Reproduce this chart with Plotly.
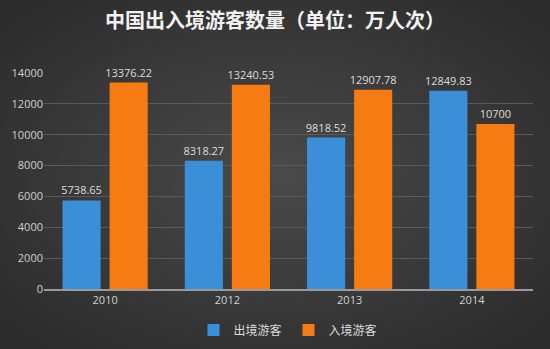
import plotly.graph_objects as go

years = ["2010", "2012", "2013", "2014"]
outbound = [5738.65, 8318.27, 9818.52, 12849.83]
inbound = [13376.22, 13240.53, 12907.78, 10700]
y_ticks = [0, 2000, 4000, 6000, 8000, 10000, 12000, 14000]

W, H = 550, 349
ML, MR, MT, MB = 44, 17, 73, 60

label_font = dict(family="Open Sans, Noto Sans CJK SC", size=11, color="#dcdcdc")


def fmt(v):
    return f"{v:.2f}".rstrip("0").rstrip(".")


fig = go.Figure()
fig.add_trace(go.Bar(
    name="出境游客", x=years, y=outbound,
    marker=dict(color="#3b8fd8", line=dict(width=0)),
    text=[fmt(v) for v in outbound], textposition="outside",
    textfont=label_font, cliponaxis=False,
))
fig.add_trace(go.Bar(
    name="入境游客", x=years, y=inbound,
    marker=dict(color="#f57b12", line=dict(width=0)),
    text=[fmt(v) for v in inbound], textposition="outside",
    textfont=label_font, cliponaxis=False,
))

# soft radial backdrop, lighter in the middle
bg_svg = (
    "data:image/svg+xml;utf8,"
    "<svg xmlns='http://www.w3.org/2000/svg' width='550' height='349' preserveAspectRatio='none'>"
    "<defs><radialGradient id='g' cx='50%25' cy='50%25' r='65%25'>"
    "<stop offset='0%25' stop-color='%234a4a4a'/>"
    "<stop offset='100%25' stop-color='%232c2c2c'/>"
    "</radialGradient></defs>"
    "<rect width='550' height='349' fill='url(%23g)'/></svg>"
)
pw, ph = W - ML - MR, H - MT - MB

fig.update_layout(
    width=W, height=H,
    margin=dict(l=ML, r=MR, t=MT, b=MB, autoexpand=False),
    paper_bgcolor="#3a3a3a",
    plot_bgcolor="rgba(0,0,0,0)",
    images=[dict(
        source=bg_svg, xref="paper", yref="paper",
        x=-ML / pw, y=1 + MT / ph, sizex=W / pw, sizey=H / ph,
        xanchor="left", yanchor="top", sizing="stretch", layer="below",
    )],
    barmode="group", bargap=0.23, bargroupgap=0.19,
    uniformtext=dict(minsize=11, mode="show"),
    title=dict(
        text="<b>中国出入境游客数量（单位：万人次）</b>",
        x=0.5, xanchor="center", y=0.94, yanchor="middle",
        font=dict(family="Noto Sans CJK SC", size=20, color="#f2f2f2"),
    ),
    legend=dict(
        orientation="h", x=0.5, xanchor="center", y=-0.19, yanchor="middle",
        font=dict(family="Noto Sans CJK SC", size=12, color="#dcdcdc"),
        itemwidth=30, entrywidth=50, entrywidthmode="pixels",
        traceorder="normal", bgcolor="rgba(0,0,0,0)",
    ),
    showlegend=True,
)
fig.update_xaxes(
    showline=True, linecolor="#9a9a9a", linewidth=1.5,
    tickfont=dict(family="Open Sans", size=11, color="#d0d0d0"),
    showgrid=False, ticks="",
)
fig.update_yaxes(
    range=[0, 14000], tickvals=y_ticks, ticktext=[str(v) for v in y_ticks],
    tickfont=dict(family="Open Sans", size=11, color="#d0d0d0"),
    gridcolor="#5a5a5a", gridwidth=1, zeroline=False,
    showline=False, ticks="",
)

fig.write_html("out.html")
